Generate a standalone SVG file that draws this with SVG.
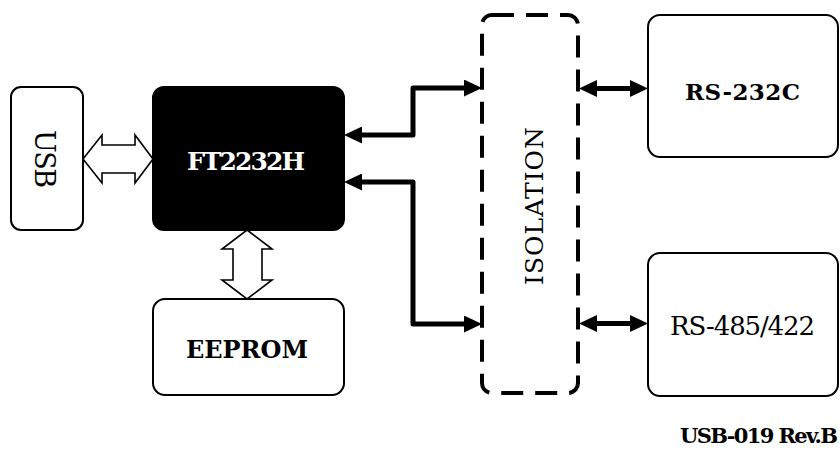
<svg xmlns="http://www.w3.org/2000/svg" width="840" height="450" viewBox="0 0 840 450">
<style>
.box{fill:#fff;stroke:#000;stroke-width:2}
.chip{fill:#000;stroke:#000;stroke-width:2}
.iso{fill:none;stroke:#000;stroke-width:4;stroke-dasharray:22 12}
.hollow{fill:#fff;stroke:#000;stroke-width:1.6;stroke-linejoin:miter}
.wire{fill:none;stroke:#000;stroke-width:5;stroke-linejoin:round;marker-start:url(#ah);marker-end:url(#ah)}
text{font-family:"DejaVu Serif","Liberation Serif",serif;fill:#000}
.b{font-weight:bold}
</style>
<defs>
<marker id="ah" viewBox="0 0 18 17" markerWidth="18" markerHeight="17" markerUnits="userSpaceOnUse" refX="8" refY="8.5" orient="auto-start-reverse">
<path d="M0,0 L18,8.5 L0,17 z" fill="#000"/>
</marker>
</defs>
<g id="usb">
<rect class="box" x="11" y="87" width="72" height="143" rx="10"/>
<text transform="translate(35,159) rotate(90)" text-anchor="middle" font-size="27" textLength="58" lengthAdjust="spacing">USB</text>
</g>
<g id="ft2232h">
<rect class="chip" x="153" y="87" width="191" height="143" rx="11"/>
<text x="246" y="170" text-anchor="middle" font-size="25" class="b" style="fill:#fff" textLength="118" lengthAdjust="spacing">FT2232H</text>
</g>
<g id="eeprom">
<rect class="box" x="153" y="299" width="191" height="96" rx="12"/>
<text x="247" y="358" text-anchor="middle" font-size="24" class="b" textLength="122" lengthAdjust="spacing">EEPROM</text>
</g>
<g id="isolation">
<rect class="iso" x="482" y="15" width="96" height="378" rx="10"/>
<text transform="translate(543,206) rotate(-90)" text-anchor="middle" font-size="25" textLength="158" lengthAdjust="spacing">ISOLATION</text>
</g>
<g id="rs232c">
<rect class="box" x="648" y="15" width="190" height="142" rx="12"/>
<text x="742.5" y="100" text-anchor="middle" font-size="23" class="b" textLength="115" lengthAdjust="spacing">RS-232C</text>
</g>
<g id="rs485">
<rect class="box" x="648" y="253" width="190" height="143" rx="12"/>
<text x="742.5" y="335" text-anchor="middle" font-size="26" textLength="145" lengthAdjust="spacing">RS-485/422</text>
</g>
<g id="connectors">
<polygon class="hollow" points="83,159 102,135 102,145 135,145 135,135 153,159 135,183 135,173 102,173 102,183"/>
<polygon class="hollow" points="247,230 272,249 262,249 262,280 272,280 247,299 222,280 233,280 233,249 222,249"/>
<path class="wire" d="M354,135 H413 V88 H472"/>
<path class="wire" d="M354,182 H413 V324 H472"/>
<path class="wire" d="M589,88.5 H638"/>
<path class="wire" d="M589,323.5 H638"/>
</g>
<text x="838" y="443" text-anchor="end" font-size="21" class="b" textLength="158" lengthAdjust="spacing">USB-019 Rev.B</text>
</svg>
